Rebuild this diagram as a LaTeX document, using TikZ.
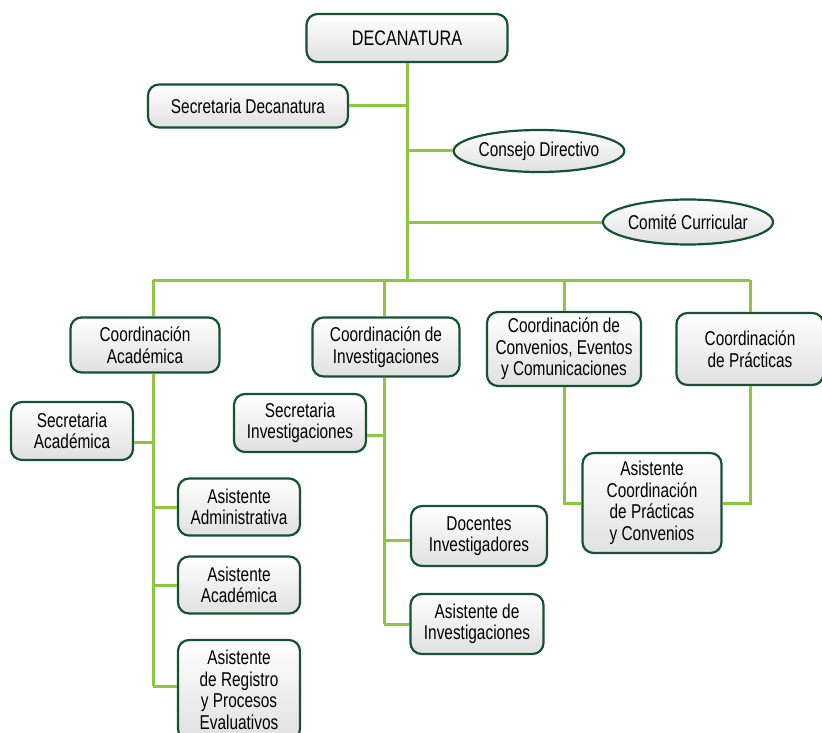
\documentclass[tikz,border=0pt]{standalone}
\usepackage{fontspec}
\setmainfont{Liberation Sans}[FakeStretch=0.77]
\usepackage{xcolor}
\usepackage{tikz}
\usetikzlibrary{shapes,positioning}

\definecolor{linegreen}{RGB}{141,198,63}
\definecolor{boxgreen}{RGB}{22,82,48}

\begin{document}
\begin{tikzpicture}[
    x=1pt, y=-1pt,
    unit/.style={rectangle, rounded corners=11pt, draw=boxgreen, line width=2.2pt,
        top color=white, bottom color=gray!24, align=center, inner sep=3pt,
        font=\fontsize{20}{21.5}\selectfont},
    board/.style={unit, ellipse, rounded corners=0pt, inner sep=0pt},
    link/.style={draw=linegreen, line width=3pt}
]
    \useasboundingbox (0,0) rectangle (822,733);

    % Spine coordinates
    \coordinate (top) at (407,280);
    \coordinate (spA) at (153,280);
    \coordinate (spI) at (384,280);
    \coordinate (spC) at (564,280);
    \coordinate (spP) at (750,280);

    % Top level
    \node[unit, minimum width=201pt, minimum height=48pt, font=\fontsize{21}{22}\selectfont] (deca) at (407,38) {DECANATURA};
    \node[unit, minimum width=200pt, minimum height=43pt] (secdec) at (248,106) {Secretaria Decanatura};
    \node[board, minimum width=168pt, minimum height=42pt] (consejo) at (539,151) {Consejo Directivo};
    \node[board, minimum width=170pt, minimum height=45pt] (comite) at (688,222) {Comité Curricular};

    % Coordinations
    \node[unit, minimum width=149pt, minimum height=55pt] (coorda) at (145,345) {Coordinación\\Académica};
    \node[unit, minimum width=147pt, minimum height=59pt] (coordi) at (386,347) {Coordinación de\\Investigaciones};
    \node[unit, minimum width=154pt, minimum height=74pt] (coordc) at (564,349) {Coordinación de\\Convenios, Eventos\\y Comunicaciones};
    \node[unit, minimum width=147pt, minimum height=72pt] (coordp) at (750,349) {Coordinación\\de Prácticas};

    % Staff
    \node[unit, minimum width=122pt, minimum height=58pt] (secaca) at (72,431) {Secretaria\\Académica};
    \node[unit, minimum width=122pt, minimum height=57pt] (asadm) at (239,507) {Asistente\\Administrativa};
    \node[unit, minimum width=122pt, minimum height=57pt] (asaca) at (239,585) {Asistente\\Académica};
    \node[unit, minimum width=122pt, minimum height=100pt] (asreg) at (239,690) {Asistente\\de Registro\\y Procesos\\Evaluativos};
    \node[unit, minimum width=132pt, minimum height=58pt] (secinv) at (300,423) {Secretaria\\Investigaciones};
    \node[unit, minimum width=136pt, minimum height=60pt] (docinv) at (479,536) {Docentes\\Investigadores};
    \node[unit, minimum width=133pt, minimum height=60pt] (asinv) at (477,624) {Asistente de\\Investigaciones};
    \node[unit, minimum width=139pt, minimum height=100pt] (asicp) at (652,503) {Asistente\\Coordinación\\de Prácticas\\y Convenios};

    % Links from the deanship
    \draw[link] (deca) -- (top);
    \draw[link] (secdec.east) -- (secdec.east -| top);
    \draw[link] (consejo.west) -- (consejo.west -| top);
    \draw[link] (comite.west) -- (comite.west -| top);
    \draw[link] (spA) -- (spP);
    \draw[link] (spA) -- (spA |- coorda.north);
    \draw[link] (spI) -- (spI |- coordi.north);
    \draw[link] (spC) -- (spC |- coordc.north);
    \draw[link] (spP) -- (spP |- coordp.north);

    % Academic coordination
    \draw[link] (spA |- coorda.south) -- (spA |- 0,686);
    \draw[link] (secaca.east) ++(0,11) -- (spA |- 0,442);
    \draw[link] (asadm.west) -- (asadm.west -| spA);
    \draw[link] (asaca.west) -- (asaca.west -| spA);
    \draw[link] (asreg.west) ++(0,-4) -- (spA |- 0,686);

    % Research coordination
    \draw[link] (spI |- coordi.south) -- (spI |- asinv.west);
    \draw[link] (secinv.east) ++(0,12) -- (spI |- 0,435);
    \draw[link] (docinv.west) ++(0,4) -- (spI |- 0,540);
    \draw[link] (asinv.west) -- (asinv.west -| spI);

    % Agreements and internships
    \draw[link] (spC |- coordc.south) |- (asicp.west);
    \draw[link] (coordp.south) |- (asicp.east);
\end{tikzpicture}
\end{document}
